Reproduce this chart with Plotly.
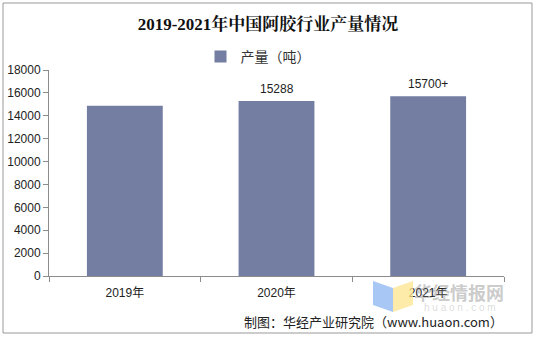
import plotly.graph_objects as go

categories = ["2019年", "2020年", "2021年"]
values = [14880, 15288, 15700]
labels = ["", "15288", "15700+"]
series_name = "产量（吨）"
y_ticks = [0, 2000, 4000, 6000, 8000, 10000, 12000, 14000, 16000, 18000]

BAR = "#737EA2"
GRID = "#8c8c8c"
FONT = "Liberation Sans, Arial, Noto Sans CJK SC"

L, R, T, B = 49, 32, 70, 61
PW, PH = 536 - L - R, 337 - T - B


def px(x):
    return (x - L) / PW


def py(y):
    return (337 - B - y) / PH


fig = go.Figure()
fig.add_trace(go.Bar(x=categories, y=values, name=series_name,
                     marker=dict(color=BAR, line=dict(width=0)),
                     width=0.5, showlegend=True))

for c, v, t in zip(categories, values, labels):
    if t:
        fig.add_annotation(x=c, y=v, text=t, showarrow=False, yshift=12,
                           font=dict(size=12, color="#222", family=FONT))

fig.update_layout(
    width=536, height=337,
    margin=dict(l=L, r=R, t=T, b=B, autoexpand=False),
    paper_bgcolor="white", plot_bgcolor="white",
    font=dict(family=FONT, size=12, color="#222"),
    title=dict(text="<b>2019-2021年中国阿胶行业产量情况</b>", x=0.5, xanchor="center",
               y=1 - 24/337, yanchor="middle",
               font=dict(size=17, family="Liberation Serif, Noto Serif CJK SC, Noto Sans CJK SC", color="#111")),
    legend=dict(orientation="h", x=px(258), xanchor="center", y=py(57), yref="paper",
                yanchor="middle", font=dict(size=14, family="Noto Sans CJK SC", color="#333"),
                itemwidth=30, bgcolor="rgba(0,0,0,0)"),
    bargap=0.5,
    showlegend=True,
)
fig.update_yaxes(range=[0, 18000], tickvals=y_ticks, tickformat="d", ticks="outside", ticklen=5,
                 tickcolor=GRID, showline=True, linecolor=GRID, showgrid=False,
                 zeroline=False, tickfont=dict(size=12, family=FONT, color="#222"))
fig.update_xaxes(ticks="outside", tickson="boundaries", ticklen=5, tickcolor=GRID,
                 showline=True, linecolor=GRID, showgrid=False, ticklabelstandoff=6,
                 tickfont=dict(size=12, family=FONT, color="#222"))

# border around the whole picture
fig.add_shape(type="rect", xref="paper", yref="paper", x0=px(3), x1=px(532),
              y0=py(333), y1=py(3), line=dict(color="#999", width=1), layer="below")

# watermark logo
fig.add_shape(type="path", xref="paper", yref="paper",
              path="M %f %f L %f %f L %f %f L %f %f Z" % (px(373), py(281), px(393), py(288),
                                                        px(393), py(312), px(373), py(305)),
              fillcolor="rgba(140,180,240,0.75)", line=dict(width=0), layer="above")
fig.add_shape(type="path", xref="paper", yref="paper",
              path="M %f %f L %f %f L %f %f L %f %f Z" % (px(393), py(288), px(413), py(281),
                                                        px(413), py(305), px(393), py(312)),
              fillcolor="rgba(252,228,140,0.75)", line=dict(width=0), layer="above")
fig.add_annotation(xref="paper", yref="paper", x=px(459), xanchor="center", y=py(292), yanchor="middle",
                   text="<b>华经情报网</b>",
                   showarrow=False, font=dict(size=18, color="rgba(120,120,120,0.4)", family="Noto Sans CJK SC"))
fig.add_annotation(xref="paper", yref="paper", x=px(460), xanchor="center", y=py(307), yanchor="middle",
                   text="h u a o n . c o m",
                   showarrow=False, font=dict(size=10, color="rgba(150,150,150,0.35)", family=FONT))

fig.add_annotation(xref="paper", yref="paper", x=px(505), xanchor="right", y=py(321), yanchor="middle",
                   text="制图：华经产业研究院（www.huaon.com）", showarrow=False,
                   font=dict(size=13, color="#222", family="Noto Sans CJK SC"))

fig.write_html("out.html")
